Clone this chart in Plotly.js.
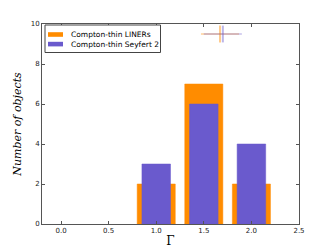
<!DOCTYPE html>
<html><head><meta charset="utf-8">
<script src="https://cdn.plot.ly/plotly-3.0.1.min.js"></script>
<style>html,body{margin:0;padding:0;background:#fff}</style>
</head><body><div id="c" style="width:332px;height:249px"></div>
<script>
const gammaBins = [1.0, 1.5, 2.0];
const linerCounts = [2, 7, 2];
const sy2Counts = [3, 6, 4];
const linerMean = [1.67], linerErr = [0.2], sy2Mean = [1.70], sy2Err = [0.2], meanY = [9.5];
const xTicks = [0.0, 0.5, 1.0, 1.5, 2.0, 2.5];
const yTicks = [0, 2, 4, 6, 8, 10];
const seriesNames = ['Compton-thin LINERs', 'Compton-thin Seyfert 2'];
const seriesColors = ['#FF8C00', '#6A5ACD'];

const data = [
  {type:'bar', x:gammaBins, y:linerCounts, width:gammaBins.map(()=>0.4), name:seriesNames[0],
   marker:{color:seriesColors[0], line:{color:'rgba(255,140,0,0.5)', width:1}}},
  {type:'bar', x:gammaBins, y:sy2Counts, width:gammaBins.map(()=>0.3), name:seriesNames[1],
   marker:{color:seriesColors[1], line:{color:'rgba(106,90,205,0.5)', width:1}}},
  {type:'scatter', mode:'markers', x:linerMean, y:meanY,
   marker:{symbol:'line-ns', size:12, line:{color:'rgba(255,140,0,0.45)', width:2}},
   error_x:{type:'data', array:linerErr, color:'rgba(255,140,0,0.6)', thickness:1, width:0}},
  {type:'scatter', mode:'markers', x:sy2Mean, y:meanY,
   marker:{symbol:'line-ns', size:12, line:{color:'rgba(106,90,205,0.45)', width:2}},
   error_x:{type:'data', array:sy2Err, color:'rgba(106,90,205,0.55)', thickness:1, width:0}}
];
// legend drawn in pixel coordinates converted to paper
const L=42, T=24, W=257, H=200;
const px = v => (v-L)/W, py = v => (T+H-v)/H;
const shapes = [
  {type:'rect', xref:'paper', yref:'paper', x0:px(45), x1:px(160.5), y0:py(52.5), y1:py(25), line:{color:'#444', width:1}, fillcolor:'#fff'},
  {type:'rect', xref:'paper', yref:'paper', x0:px(48), x1:px(63), y0:py(36.8), y1:py(32.2), line:{width:0}, fillcolor:seriesColors[0]},
  {type:'rect', xref:'paper', yref:'paper', x0:px(48), x1:px(63), y0:py(46.4), y1:py(41.8), line:{width:0}, fillcolor:seriesColors[1]}
];
const annotations = [
  {xref:'paper', yref:'paper', x:px(69), y:py(34.5), xanchor:'left', yanchor:'middle', showarrow:false, text:seriesNames[0], font:{family:'DejaVu Sans', size:7.5, color:'#000'}},
  {xref:'paper', yref:'paper', x:px(69), y:py(44.2), xanchor:'left', yanchor:'middle', showarrow:false, text:seriesNames[1], font:{family:'DejaVu Sans', size:7.5, color:'#000'}}
];
const axisCommon = {showgrid:false, zeroline:false, showline:true, linecolor:'#555', linewidth:1,
  mirror:'allticks', ticks:'inside', ticklen:3, tickcolor:'#555',
  tickfont:{family:'DejaVu Sans', size:7, color:'#222'}};
const layout = {
  width:332, height:249, margin:{l:L, r:33, t:T, b:25},
  paper_bgcolor:'#fff', plot_bgcolor:'#fff', barmode:'overlay', bargap:0, showlegend:false,
  xaxis:Object.assign({}, axisCommon, {range:[-0.2,2.5], tickvals:xTicks, ticktext:xTicks.map(v=>v.toFixed(1)),
    title:{text:'Γ', font:{family:'DejaVu Serif', size:12, color:'#000'}, standoff:2}}),
  yaxis:Object.assign({}, axisCommon, {range:[0,10], tickvals:yTicks, ticktext:yTicks.map(String),
    title:{text:'<i>Number of objects</i>', font:{family:'DejaVu Serif', size:11, color:'#000'}, standoff:6}}),
  shapes, annotations
};
Plotly.newPlot('c', data, layout, {displayModeBar:false, staticPlot:true});
</script></body></html>
